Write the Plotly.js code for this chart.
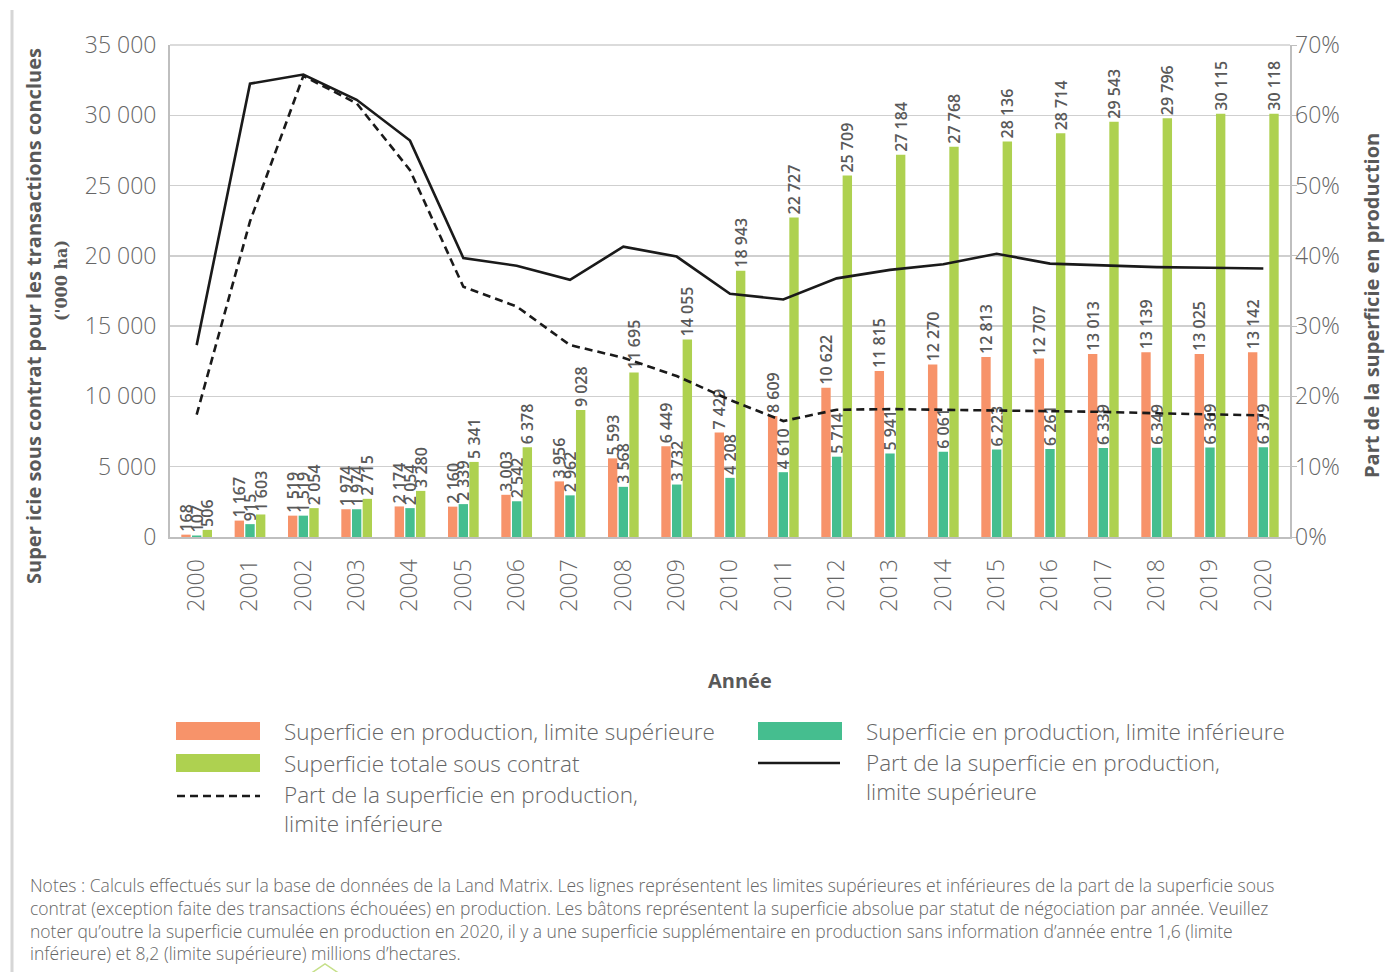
<!DOCTYPE html>
<html>
<head>
<meta charset="utf-8">
<script src="https://cdn.plot.ly/plotly-3.0.1.min.js"></script>
<style>html,body{margin:0;padding:0;background:#fff;}#chart{width:1386px;height:972px;}</style>
</head>
<body>
<div id="chart"></div>
<script>
// ---- data ----
const years = ["2000","2001","2002","2003","2004","2005","2006","2007","2008","2009","2010","2011","2012","2013","2014","2015","2016","2017","2018","2019","2020"];
const upperArea = [168,1167,1519,1974,2174,2160,3003,3956,5593,6449,7429,8609,10622,11815,12270,12813,12707,13013,13139,13025,13142];
const lowerArea = [107,915,1519,1974,2054,2339,2542,2962,3568,3732,4208,4610,5714,5941,6061,6223,6261,6339,6349,6369,6379];
const totalArea = [506,1603,2054,2715,3280,5341,6378,9028,11695,14055,18943,22727,25709,27184,27768,28136,28714,29543,29796,30115,30118];
const shareUpper = [0.273,0.645,0.658,0.622,0.564,0.397,0.386,0.366,0.413,0.399,0.346,0.338,0.368,0.380,0.388,0.403,0.389,0.386,0.384,0.383,0.382];
const shareLower = [0.174,0.449,0.656,0.617,0.522,0.356,0.328,0.273,0.255,0.229,0.195,0.165,0.181,0.182,0.181,0.180,0.180,0.178,0.176,0.175,0.173];

const names = {
  upper: "Superficie en production, limite supérieure",
  lower: "Superficie en production, limite inférieure",
  total: "Superficie totale sous contrat",
  shareLower: "Part de la superficie en production,<br>limite inférieure",
  shareUpper: "Part de la superficie en production,<br>limite supérieure"
};
const COL = {orange:"#F7936A", teal:"#45BE8F", green:"#AED150", line:"#1a1a1a", text:"#595959", grid:"#cfcfcf", axis:"#bfbfbf"};
const FONT = "Open Sans, Noto Sans, sans-serif";

// plot area in px (for decorations)
const L = 170, R = 1290, T = 45, B = 537;
const xp = px => (px - L) / (R - L);
const yp = py => (B - py) / (B - T);

const labelFont = {family: FONT, size: 16, color: COL.text, weight: 600};
function barTrace(vals, color, name) {
  return {
    type: "bar", x: years, y: vals, name: name,
    marker: {color: color},
    texttemplate: "%{y:,}", textposition: "outside", textangle: -90,
    textfont: labelFont, cliponaxis: false, constraintext: "none",
    hoverinfo: "x+y"
  };
}

const traces = [
  barTrace(upperArea, COL.orange, names.upper),
  barTrace(lowerArea, COL.teal, names.lower),
  barTrace(totalArea, COL.green, names.total),
  {type: "scatter", mode: "lines", x: years, y: shareUpper, yaxis: "y2", name: names.shareUpper,
   line: {color: COL.line, width: 2.6}},
  {type: "scatter", mode: "lines", x: years, y: shareLower, yaxis: "y2", name: names.shareLower,
   line: {color: COL.line, width: 2.6, dash: "8px,5px"}}
];

const tickFont = {family: FONT, size: 23, color: "#666666", weight: 300};
const legFont = {family: FONT, size: 22.5, color: "#666666", weight: 300};

const shapes = [
  // page border left
  {type: "line", xref: "paper", yref: "paper", x0: xp(12), x1: xp(12), y0: yp(10), y1: yp(972), line: {color: "#d6d6d6", width: 3}},
  // top gridline (35 000)
  {type: "line", xref: "paper", yref: "paper", x0: 0, x1: 1, y0: 1, y1: 1, line: {color: COL.grid, width: 1.5}, layer: "below"},
  // legend symbols
  {type: "rect", xref: "paper", yref: "paper", x0: xp(176), x1: xp(260), y0: yp(722), y1: yp(740), fillcolor: COL.orange, line: {width: 0}},
  {type: "rect", xref: "paper", yref: "paper", x0: xp(176), x1: xp(260), y0: yp(754), y1: yp(772), fillcolor: COL.green, line: {width: 0}},
  {type: "line", xref: "paper", yref: "paper", x0: xp(177), x1: xp(260), y0: yp(796), y1: yp(796), line: {color: COL.line, width: 2.6, dash: "8px,5px"}},
  {type: "rect", xref: "paper", yref: "paper", x0: xp(758), x1: xp(842), y0: yp(722), y1: yp(740), fillcolor: COL.teal, line: {width: 0}},
  {type: "line", xref: "paper", yref: "paper", x0: xp(758), x1: xp(840), y0: yp(763), y1: yp(763), line: {color: COL.line, width: 2.6}},
  // small green chevron at bottom
  {type: "path", xref: "paper", yref: "paper",
   path: "M " + xp(310) + " " + yp(974) + " L " + xp(325) + " " + yp(964) + " L " + xp(340) + " " + yp(974),
   line: {color: "#c6e08a", width: 1.5}}
];

function ann(px, py, text, font, extra) {
  return Object.assign({xref: "paper", yref: "paper", x: xp(px), y: yp(py), text: text, showarrow: false, font: font,
                        xanchor: "center", yanchor: "middle"}, extra || {});
}
const titleFont = {family: FONT, size: 20, color: COL.text, weight: 700};
const noteFont = {family: FONT, size: 17.5, color: "#666666", weight: 300};

const noteLines = [
  "Notes : Calculs effectués sur la base de données de la Land Matrix. Les lignes représentent les limites supérieures et inférieures de la part de la superficie sous",
  "contrat (exception faite des transactions échouées) en production. Les bâtons représentent la superficie absolue par statut de négociation par année. Veuillez",
  "noter qu’outre la superficie cumulée en production en 2020, il y a une superficie supplémentaire en production sans information d’année entre 1,6 (limite",
  "inférieure) et 8,2 (limite supérieure) millions d’hectares."
];

const annotations = [
  ann(33, 316, "Super icie sous contrat pour les transactions conclues", titleFont, {textangle: -90}),
  ann(61, 281, "('000 ha)", {family: "DejaVu Serif, Liberation Serif, serif", size: 16, color: COL.text, weight: 700}, {textangle: -90}),
  ann(1371, 306, "Part de la superficie en production", titleFont, {textangle: -90}),
  ann(740, 680, "Année", titleFont),
  ann(282, 731, names.upper, legFont, {xanchor: "left"}),
  ann(282, 763, names.total, legFont, {xanchor: "left"}),
  ann(282, 795, names.shareLower, legFont, {xanchor: "left", yanchor: "top", align: "left", yshift: 18}),
  ann(864, 731, names.lower, legFont, {xanchor: "left"}),
  ann(864, 763, names.shareUpper, legFont, {xanchor: "left", yanchor: "top", align: "left", yshift: 18}),
  ann(28, 871, noteLines.join("<br>"), noteFont, {xanchor: "left", yanchor: "top", align: "left"})
];

const layout = {
  width: 1386, height: 972,
  margin: {l: L, r: 1386 - R, t: T, b: 972 - B, pad: 0},
  paper_bgcolor: "#ffffff", plot_bgcolor: "#ffffff",
  separators: ", ",
  showlegend: false,
  barmode: "group", bargap: 0.4, bargroupgap: 0.12,
  font: {family: FONT},
  xaxis: {type: "category", tickangle: -90, tickfont: tickFont, ticks: "", showline: true,
          linecolor: COL.axis, linewidth: 2, ticklabelstandoff: 11, showgrid: false, zeroline: false},
  yaxis: {range: [0, 35000], dtick: 5000, tickformat: ",", tickfont: tickFont, showgrid: true,
          gridcolor: COL.grid, gridwidth: 1.5, showline: true, linecolor: COL.axis, linewidth: 2,
          zeroline: false, ticks: "", ticklabelstandoff: 7},
  yaxis2: {overlaying: "y", side: "right", range: [0, 0.7], dtick: 0.1, tickformat: ".0%",
           tickfont: tickFont, showgrid: false, showline: true, linecolor: COL.axis, linewidth: 1.5,
           ticks: "outside", ticklen: 5, tickcolor: COL.axis, zeroline: false, ticklabelstandoff: -6},
  shapes: shapes,
  annotations: annotations
};

Plotly.newPlot("chart", traces, layout, {displayModeBar: false, staticPlot: true});
</script>
</body>
</html>
